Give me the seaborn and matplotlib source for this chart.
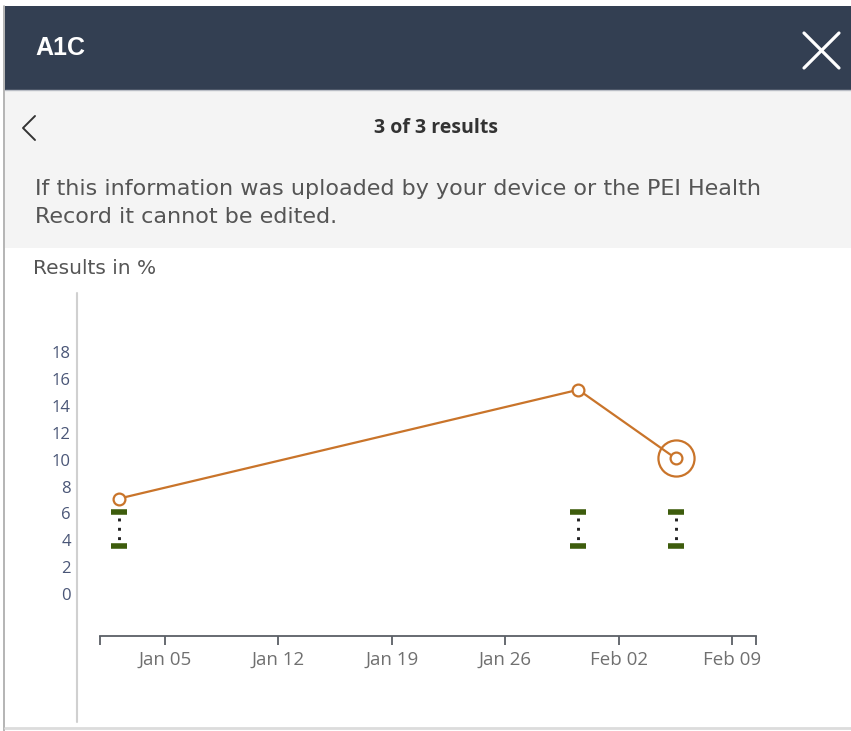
import matplotlib
matplotlib.use("Agg")
import matplotlib.pyplot as plt
import matplotlib.dates as mdates
from matplotlib.patches import Rectangle
from matplotlib.lines import Line2D
import seaborn as sns
import pandas as pd

# ---------------- data ----------------
dates = ["2020-01-02 04:00", "2020-01-30 12:00", "2020-02-05 12:00"]
a1c_values = [7.1, 15.2, 10.1]
range_low = [3.6, 3.6, 3.6]
range_high = [6.1, 6.1, 6.1]
y_ticks = [0, 2, 4, 6, 8, 10, 12, 14, 16, 18]
x_tick_dates = ["2020-01-05", "2020-01-12", "2020-01-19", "2020-01-26", "2020-02-02", "2020-02-09"]
x_limits = ["2020-01-01 00:00", "2020-02-10 11:00"]

title = "A1C"
nav_text = "3 of 3 results"
info_line1 = "If this information was uploaded by your device or the PEI Health"
info_line2 = "Record it cannot be edited."
unit_text = "Results in %"

# ---------------- style ----------------
sns.set_theme(style="white")
plt.rcParams["font.family"] = ["Open Sans", "DejaVu Sans"]

W, H = 851, 731
fig = plt.figure(figsize=(W / 100, H / 100), dpi=100)
fig.patch.set_facecolor("white")


def fx(px):
    return px / W


def fy(py):
    return 1 - py / H


def rect(x0, y0, x1, y1, color, z=0):
    fig.add_artist(Rectangle((fx(x0), fy(y1)), (x1 - x0) / W, (y1 - y0) / H,
                             transform=fig.transFigure, facecolor=color,
                             edgecolor="none", zorder=z))


def hline(x0, x1, y, color, lw):
    fig.add_artist(Line2D([fx(x0), fx(x1)], [fy(y), fy(y)], transform=fig.transFigure,
                          color=color, lw=lw))


def vline(x, y0, y1, color, lw):
    fig.add_artist(Line2D([fx(x), fx(x)], [fy(y0), fy(y1)], transform=fig.transFigure,
                          color=color, lw=lw))


# header
rect(5, 6, W, 90, "#333f52")
rect(5, 90, W, 248, "#f4f4f4")
hline(5, W, 90, "#b9bdc5", 1.0)
vline(4, 6, H, "#a8a8a8", 1.2)
hline(5, W, 728, "#dcdcdc", 2.0)

fig.text(fx(35), fy(48), title, color="white", fontsize=18, fontweight="bold",
         va="center", ha="left", family=["Liberation Sans", "DejaVu Sans"])
# close X
fig.add_artist(Line2D([fx(804), fx(839)], [fy(33), fy(68)], transform=fig.transFigure,
                      color="white", lw=2.3, solid_capstyle="round"))
fig.add_artist(Line2D([fx(804), fx(839)], [fy(68), fy(33)], transform=fig.transFigure,
                      color="white", lw=2.3, solid_capstyle="round"))
# back chevron
fig.add_artist(Line2D([fx(35), fx(23), fx(35)], [fy(116), fy(128), fy(140)],
                      transform=fig.transFigure, color="#333333", lw=1.4))
fig.text(fx(436), fy(128), nav_text, color="#333333", fontsize=14, fontweight="bold",
         va="center", ha="center")
fig.text(fx(35), fy(189), info_line1, color="#555555", fontsize=16,
         va="center", ha="left", family=["DejaVu Sans"])
fig.text(fx(35), fy(217), info_line2, color="#555555", fontsize=16,
         va="center", ha="left", family=["DejaVu Sans"])
fig.text(fx(33), fy(269), unit_text, color="#555555", fontsize=14.5,
         va="center", ha="left", family=["DejaVu Sans"])

# separator vertical line
vline(77, 293, 722, "#d0d0d0", 1.5)

# ---------------- chart ----------------
df = pd.DataFrame({"date": pd.to_datetime(dates), "value": a1c_values,
                   "low": range_low, "high": range_high})

ax = fig.add_axes([fx(100), fy(636), (756 - 100) / W, (636 - 293) / H])
ax.set_facecolor("none")

line_color = "#c9742a"
green = "#3d5c0c"

# range indicators
ax.vlines(df["date"], df["low"], df["high"], colors="#222222", lw=2.1,
          linestyles=[(1.0, (1.0, 2.2))], zorder=2)
ax.plot(df["date"], df["low"], ls="none", marker="_", ms=11.5, mew=4.0, color=green, zorder=3)
ax.plot(df["date"], df["high"], ls="none", marker="_", ms=11.5, mew=4.0, color=green, zorder=3)

sns.lineplot(data=df, x="date", y="value", ax=ax, color=line_color, lw=1.6,
             marker="o", markersize=8.5, markerfacecolor="white",
             markeredgecolor=line_color, markeredgewidth=1.6, zorder=4)
last = df.iloc[[-1]]
sns.scatterplot(data=last, x="date", y="value", ax=ax, s=26 ** 2, color="white",
                edgecolor=line_color, linewidth=1.6, zorder=3.5)

ax.set_xlim(pd.to_datetime(x_limits[0]), pd.to_datetime(x_limits[1]))
ax.set_ylim(-3.125, 22.4)
ax.set_yticks(y_ticks)
ax.set_xticks(pd.to_datetime(x_tick_dates))
ax.set_xticks(pd.to_datetime(x_limits), minor=True)
ax.xaxis.set_major_formatter(mdates.DateFormatter("%b %d"))
ax.set_xlabel("")
ax.set_ylabel("")

for s in ["top", "right", "left"]:
    ax.spines[s].set_visible(False)
ax.spines["bottom"].set_color("#5a5f66")
ax.spines["bottom"].set_linewidth(1.3)

ax.tick_params(axis="y", length=0, pad=21, labelsize=12, labelcolor="#4a5677")
ax.tick_params(axis="x", which="both", direction="out", length=6.5, width=1.3,
               color="#5a5f66", bottom=True)
ax.tick_params(axis="x", which="major", pad=4.5, labelsize=13.5, labelcolor="#707070")
ax.grid(False)

fig.savefig("out.png", dpi=100)
